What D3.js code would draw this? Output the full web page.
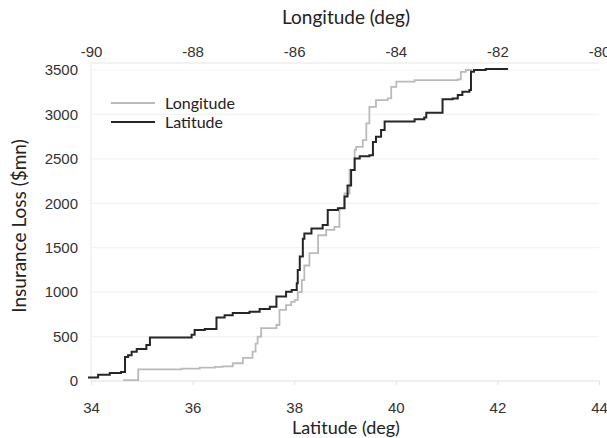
<!DOCTYPE html>
<html lang="en">
<head>
<meta charset="utf-8">
<title>Insurance loss by latitude and longitude</title>
<script src="https://cdn.jsdelivr.net/npm/d3@7"></script>
<style>
  body { margin: 0; background: #fff; }
  .tick text { font-family: "Liberation Sans", Arial, sans-serif; font-size: 15px; fill: #333; }
  .title { font-family: Lato, "Noto Sans", sans-serif; font-size: 19px; fill: #222; }
  .legend { font-family: Lato, "Noto Sans", sans-serif; font-size: 16px; fill: #222; }
</style>
</head>
<body>
<script>
// cumulative loss steps
var latitudeDeg = [33.94, 34.14, 34.37, 34.59, 34.67, 34.73, 34.80, 34.90, 35.09, 35.16,
  35.98, 36.04, 36.24, 36.47, 36.63, 36.79, 37.12, 37.32, 37.52, 37.65, 37.84, 37.95,
  38.05, 38.07, 38.11, 38.17, 38.20, 38.34, 38.56, 38.66, 38.86, 38.99, 39.05, 39.12,
  39.19, 39.29, 39.48, 39.55, 39.61, 39.71, 39.78, 40.37, 40.56, 40.60, 40.92, 41.12,
  41.22, 41.31, 41.45, 41.48, 41.54, 41.77, 42.21];
var latitudeLoss = [40, 70, 90, 100, 270, 290, 330, 360, 405, 490,
  520, 575, 585, 715, 740, 765, 780, 810, 835, 950, 1005, 1025,
  1100, 1250, 1400, 1600, 1660, 1715, 1755, 1925, 1945, 2075, 2200, 2375,
  2505, 2530, 2540, 2690, 2750, 2825, 2920, 2945, 2965, 3020, 3170, 3180,
  3220, 3255, 3275, 3480, 3500, 3510, 3510];

var longitudeDeg = [-89.37, -89.07, -88.22, -87.86, -87.56, -87.41, -87.21, -87.01, -86.82,
  -86.76, -86.72, -86.65, -86.35, -86.29, -86.16, -86.06, -85.99, -85.93, -85.85, -85.80,
  -85.70, -85.53, -85.37, -85.21, -85.11, -85.01, -84.91, -84.81, -84.78, -84.65, -84.58,
  -84.52, -84.39, -84.16, -84.09, -83.99, -83.63, -82.78, -82.72, -82.62, -82.50];
var longitudeLoss = [10, 130, 140, 150, 160, 165, 200, 260, 330,
  420, 500, 595, 630, 800, 855, 890, 910, 1000, 1135, 1300,
  1440, 1640, 1700, 1735, 1945, 2110, 2375, 2600, 2635, 2710, 2900,
  3085, 3160, 3180, 3310, 3370, 3385, 3395, 3480, 3500, 3500];

var latTicks = [34, 36, 38, 40, 42, 44];
var lonTicks = [-90, -88, -86, -84, -82, -80];
var lossTicks = [0, 500, 1000, 1500, 2000, 2500, 3000, 3500];

var w = 607, h = 438;
var plotLeft = 91, plotRight = 599, plotTop = 70, plotBottom = 381;
var frameTop = 63;

var svg = d3.select("body").append("svg")
    .attr("width", w)
    .attr("height", h);

var x = d3.scaleLinear().domain([34, 44]).range([plotLeft, plotRight]);
var xTop = d3.scaleLinear().domain([-90, -80]).range([plotLeft, plotRight]);
var y = d3.scaleLinear().domain([0, 3500]).range([plotBottom, plotTop]);

// faint grid and frame
svg.append("g").selectAll("line")
  .data(lossTicks)
  .enter().append("line")
    .attr("x1", plotLeft).attr("x2", plotRight)
    .attr("y1", function(d) { return y(d); })
    .attr("y2", function(d) { return y(d); })
    .attr("stroke", function(d) { return d === 0 ? "#e2e2e2" : "#f3f3f3"; })
    .attr("stroke-width", 1.2);

svg.append("line")
    .attr("x1", plotLeft).attr("x2", plotRight)
    .attr("y1", frameTop).attr("y2", frameTop)
    .attr("stroke", "#e6e6e6").attr("stroke-width", 1.2);
svg.append("line")
    .attr("x1", plotLeft).attr("x2", plotLeft)
    .attr("y1", frameTop).attr("y2", plotBottom)
    .attr("stroke", "#ececec").attr("stroke-width", 1.2);

// axes
var fmt = function(d) { return String(d); };
var bottomAxis = svg.append("g")
    .attr("transform", "translate(0," + plotBottom + ")")
    .call(d3.axisBottom(x).tickValues(latTicks).tickFormat(fmt).tickSize(4));
bottomAxis.selectAll(".tick text").attr("y", 32).attr("dy", 0);

var topAxis = svg.append("g")
    .attr("transform", "translate(0," + frameTop + ")")
    .call(d3.axisTop(xTop).tickValues(lonTicks).tickFormat(fmt).tickSize(0));
topAxis.selectAll(".tick text").attr("y", -6).attr("dy", 0);

var leftAxis = svg.append("g")
    .attr("transform", "translate(" + (plotLeft - 13) + ",0)")
    .call(d3.axisLeft(y).tickValues(lossTicks).tickFormat(fmt).tickSize(0).tickPadding(0));

[bottomAxis, topAxis, leftAxis].forEach(function(g) {
  g.select(".domain").remove();
  g.selectAll(".tick line").attr("stroke", "#e4e4e4");
});

// step lines
var line = d3.line().curve(d3.curveStepAfter);

svg.append("path")
    .attr("d", line(longitudeDeg.map(function(d, i) { return [xTop(d), y(longitudeLoss[i])]; })))
    .attr("fill", "none")
    .attr("stroke", "#bababa")
    .attr("stroke-width", 1.8);

svg.append("path")
    .attr("d", line(latitudeDeg.map(function(d, i) { return [x(d), y(latitudeLoss[i])]; })))
    .attr("fill", "none")
    .attr("stroke", "#262626")
    .attr("stroke-width", 2);

// titles
svg.append("text").attr("class", "title")
    .attr("x", 346).attr("y", 24)
    .attr("text-anchor", "middle")
    .text("Longitude (deg)");
svg.append("text").attr("class", "title")
    .attr("x", 346).attr("y", 434)
    .attr("text-anchor", "middle")
    .style("font-size", "18px")
    .text("Latitude (deg)");
svg.append("text").attr("class", "title")
    .attr("transform", "translate(26,226) rotate(-90)")
    .attr("text-anchor", "middle")
    .text("Insurance Loss ($mn)");

// legend
var legend = [["Longitude", "#bababa", 1.8], ["Latitude", "#262626", 2]];
var lg = svg.append("g").selectAll("g")
  .data(legend)
  .enter().append("g")
    .attr("transform", function(d, i) { return "translate(111," + (103 + i * 19) + ")"; });
lg.append("line")
    .attr("x1", 0).attr("x2", 44)
    .attr("stroke", function(d) { return d[1]; })
    .attr("stroke-width", function(d) { return d[2]; });
lg.append("text").attr("class", "legend")
    .attr("x", 54).attr("dy", "0.35em")
    .text(function(d) { return d[0]; });
</script>
</body>
</html>
